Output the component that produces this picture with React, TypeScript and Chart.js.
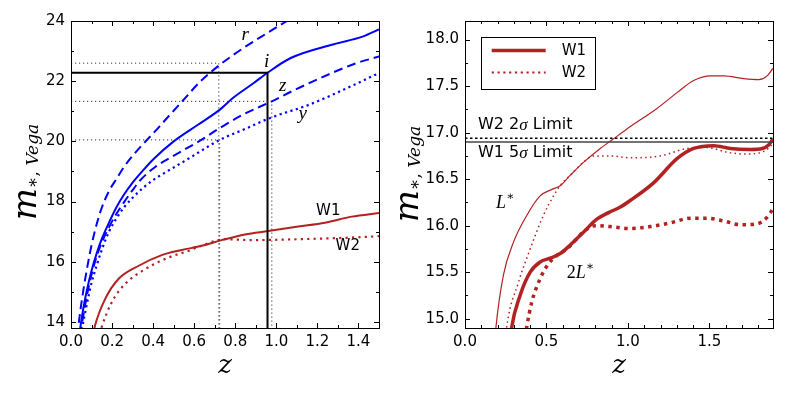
import React, { useEffect, useRef } from "react";
import { Chart, registerables } from "chart.js";
Chart.register(...registerables);

// ---------- Left panel data (apparent magnitude of m* vs redshift) ----------
const rBandZ = [0.03, 0.035, 0.045, 0.06, 0.08, 0.1, 0.125, 0.15, 0.185, 0.222, 0.26, 0.3, 0.336, 0.38, 0.425, 0.48, 0.531, 0.63, 0.726, 0.839, 0.953, 1.042, 1.08];
const rBandMag = [13.5, 13.8, 14.35, 15.05, 15.85, 16.55, 17.25, 17.8, 18.35, 18.76, 19.17, 19.52, 19.8, 20.12, 20.45, 20.87, 21.25, 21.99, 22.55, 23.1, 23.59, 23.96, 24.12];

const iBandZ = [0.04, 0.045, 0.06, 0.075, 0.1, 0.125, 0.15, 0.185, 0.222, 0.26, 0.3, 0.35, 0.4, 0.5, 0.62, 0.72, 0.79, 0.89, 0.957, 1.07, 1.28, 1.42, 1.5];
const iBandMag = [13.55, 13.8, 14.45, 14.98, 15.7, 16.28, 16.76, 17.3, 17.82, 18.25, 18.63, 19.03, 19.4, 20.0, 20.56, 21.03, 21.45, 21.94, 22.28, 22.77, 23.23, 23.48, 23.72];

const zBandZ = [0.045, 0.05, 0.065, 0.08, 0.1, 0.125, 0.15, 0.185, 0.222, 0.26, 0.3, 0.336, 0.41, 0.52, 0.637, 0.726, 0.84, 0.978, 1.08, 1.28, 1.39, 1.5];
const zBandMag = [13.55, 13.8, 14.42, 14.97, 15.58, 16.18, 16.64, 17.15, 17.6, 18.0, 18.38, 18.7, 19.15, 19.6, 20.06, 20.45, 20.9, 21.33, 21.68, 22.3, 22.6, 22.82];

const yBandZ = [0.05, 0.055, 0.07, 0.085, 0.1, 0.125, 0.15, 0.185, 0.222, 0.26, 0.3, 0.35, 0.4, 0.46, 0.59, 0.63, 0.724, 0.85, 0.97, 1.16, 1.36, 1.5];
const yBandMag = [13.55, 13.8, 14.35, 14.85, 15.3, 15.88, 16.4, 17.0, 17.45, 17.82, 18.13, 18.45, 18.72, 18.97, 19.5, 19.67, 20.05, 20.42, 20.78, 21.22, 21.82, 22.27];

const w1LeftZ = [0.11, 0.117, 0.166, 0.23, 0.328, 0.442, 0.539, 0.637, 0.734, 0.848, 0.961, 1.107, 1.237, 1.367, 1.5];
const w1LeftMag = [13.65, 13.88, 14.76, 15.42, 15.86, 16.22, 16.39, 16.53, 16.72, 16.91, 17.02, 17.17, 17.3, 17.5, 17.62];

const w2LeftZ = [0.14, 0.149, 0.198, 0.263, 0.36, 0.474, 0.571, 0.653, 0.75, 0.88, 1.107, 1.35, 1.5];
const w2LeftMag = [13.6, 13.82, 14.65, 15.26, 15.75, 16.14, 16.36, 16.58, 16.75, 16.72, 16.75, 16.8, 16.85];

// guide lines (corner lines drawn to the curves)
const guideSolidZ = [0, 0.957, 0.957];
const guideSolidMag = [22.28, 22.28, 13.5];
const guideRZ = [0, 0.72, 0.72];
const guideRMag = [22.6, 22.6, 13.5];
const guideZZ = [0, 0.978, 0.978];
const guideZMag = [21.33, 21.33, 13.5];
const guideYZ = [0, 0.724, 0.724];
const guideYMag = [20.05, 20.05, 13.5];

const leftXTicks = [0, 0.2, 0.4, 0.6, 0.8, 1.0, 1.2, 1.4];
const leftXMinor = [0.1, 0.3, 0.5, 0.7, 0.9, 1.1, 1.3];
const leftYTicks = [14, 16, 18, 20, 22, 24];
const leftYMinor = [15, 17, 19, 21, 23];

// ---------- Right panel data ----------
const lstarW1Z = [0.185, 0.19, 0.236, 0.297, 0.379, 0.461, 0.533, 0.584, 0.645, 0.727, 0.83, 0.901, 0.994, 1.178, 1.301, 1.403, 1.506, 1.588, 1.711, 1.803, 1.854, 1.889];
const lstarW1Mag = [14.8, 14.91, 15.47, 15.82, 16.11, 16.32, 16.39, 16.43, 16.54, 16.68, 16.83, 16.92, 17.04, 17.26, 17.43, 17.56, 17.61, 17.61, 17.58, 17.57, 17.61, 17.69];

const lstarW2Z = [0.25, 0.256, 0.328, 0.4, 0.481, 0.543, 0.584, 0.645, 0.738, 0.789, 0.891, 1.014, 1.199, 1.363, 1.486, 1.608, 1.711, 1.803, 1.854, 1.889];
const lstarW2Mag = [14.8, 14.91, 15.39, 15.75, 16.11, 16.32, 16.43, 16.54, 16.7, 16.75, 16.75, 16.73, 16.75, 16.83, 16.84, 16.79, 16.77, 16.78, 16.82, 16.88];

const twoLW1Z = [0.28, 0.287, 0.338, 0.4, 0.461, 0.522, 0.584, 0.645, 0.727, 0.809, 0.881, 0.953, 1.014, 1.157, 1.301, 1.403, 1.526, 1.629, 1.752, 1.824, 1.865, 1.889];
const twoLW1Mag = [14.8, 14.91, 15.25, 15.5, 15.61, 15.65, 15.7, 15.79, 15.93, 16.07, 16.14, 16.2, 16.27, 16.46, 16.72, 16.83, 16.86, 16.83, 16.82, 16.83, 16.87, 16.93];

const twoLW2Z = [0.37, 0.379, 0.41, 0.461, 0.512, 0.564, 0.625, 0.686, 0.738, 0.799, 0.891, 1.014, 1.137, 1.26, 1.383, 1.486, 1.588, 1.69, 1.793, 1.854, 1.889];
const twoLW2Mag = [14.8, 14.91, 15.18, 15.43, 15.59, 15.68, 15.75, 15.86, 15.95, 16.0, 15.99, 15.97, 15.99, 16.03, 16.08, 16.08, 16.05, 16.01, 16.02, 16.09, 16.18];

const limitZ = [0, 2];
const w2LimitMag = [16.94, 16.94];
const w1LimitMag = [16.9, 16.9];

const rightXTicks = [0, 0.5, 1.0, 1.5];
const rightXMinor = [0.1, 0.2, 0.3, 0.4, 0.6, 0.7, 0.8, 0.9, 1.1, 1.2, 1.3, 1.4, 1.6, 1.7, 1.8];
const rightYTicks = [15, 15.5, 16, 16.5, 17, 17.5, 18];
const rightYMinor = [15.25, 15.75, 16.25, 16.75, 17.25, 17.75];

// ---------- helpers ----------
const BLUE = "#0000ff";
const RED = "#b22222";
const SANS = '"DejaVu Sans"';
const SERIF = '"Liberation Serif"';
const MATH = '"DejaVu Serif"';

const pts = (xs: number[], ys: number[]) => xs.map((x, i) => ({ x, y: ys[i] }));

function curve(xs: number[], ys: number[], color: string, width: number, dash: number[] = []) {
  return {
    data: pts(xs, ys),
    borderColor: color,
    borderWidth: width,
    borderDash: dash,
    borderCapStyle: "butt",
    pointRadius: 0,
    fill: false,
    cubicInterpolationMode: "monotone",
    clip: 0,
  } as any;
}
function straight(xs: number[], ys: number[], color: string, width: number, dash: number[] = []) {
  return { ...curve(xs, ys, color, width, dash), cubicInterpolationMode: "default", tension: 0 };
}

type Run = { t: string; font: string; dy?: number };
function drawRuns(ctx: CanvasRenderingContext2D, runs: Run[], x: number, y: number, align: "left" | "center") {
  let total = 0;
  for (const r of runs) {
    ctx.font = r.font;
    total += ctx.measureText(r.t).width;
  }
  let cx = align === "center" ? x - total / 2 : x;
  ctx.textAlign = "left";
  for (const r of runs) {
    ctx.font = r.font;
    ctx.fillText(r.t, cx, y + (r.dy || 0));
    cx += ctx.measureText(r.t).width;
  }
}

type Note = { x: number; y: number; runs: Run[]; align: "left" | "center" };
type DecorCfg = {
  xMajor: number[]; xMinor: number[]; yMajor: number[]; yMinor: number[];
  notes: Note[];
  yTitleX: number; yTitleY: number; xTitleY: number;
  legend?: boolean;
};

function decorPlugin(cfg: DecorCfg) {
  return {
    id: "decor",
    afterDraw(chart: any) {
      const ctx: CanvasRenderingContext2D = chart.ctx;
      const a = chart.chartArea;
      const xs = chart.scales.x, ys = chart.scales.y;
      ctx.save();
      // frame
      ctx.strokeStyle = "#000";
      ctx.lineWidth = 1;
      ctx.setLineDash([]);
      ctx.strokeRect(Math.round(a.left) + 0.5, Math.round(a.top) + 0.5, Math.round(a.right - a.left), Math.round(a.bottom - a.top));
      // inward ticks on all sides
      const tick = (vals: number[], len: number) => {
        for (const v of vals) {
          const px = Math.round(xs.getPixelForValue(v)) + 0.5;
          ctx.beginPath();
          ctx.moveTo(px, a.bottom); ctx.lineTo(px, a.bottom - len);
          ctx.moveTo(px, a.top); ctx.lineTo(px, a.top + len);
          ctx.stroke();
        }
      };
      const tickY = (vals: number[], len: number) => {
        for (const v of vals) {
          const py = Math.round(ys.getPixelForValue(v)) + 0.5;
          ctx.beginPath();
          ctx.moveTo(a.left, py); ctx.lineTo(a.left + len, py);
          ctx.moveTo(a.right, py); ctx.lineTo(a.right - len, py);
          ctx.stroke();
        }
      };
      tick(cfg.xMajor, 5); tick(cfg.xMinor, 3);
      tickY(cfg.yMajor, 5); tickY(cfg.yMinor, 3);

      // annotations
      ctx.fillStyle = "#000";
      ctx.textBaseline = "middle";
      for (const n of cfg.notes) {
        drawRuns(ctx, n.runs, xs.getPixelForValue(n.x), ys.getPixelForValue(n.y), n.align);
      }

      // legend
      if (cfg.legend) {
        const lx = a.left + 15.7, ly = a.top + 16, lw = 114, lh = 52;
        ctx.fillStyle = "#fff";
        ctx.fillRect(lx, ly, lw, lh);
        ctx.strokeStyle = "#000";
        ctx.lineWidth = 1;
        ctx.strokeRect(Math.round(lx) + 0.5, Math.round(ly) + 0.5, lw, lh);
        const items = [
          { label: "W1", width: 3.5, dash: [] as number[], dy: 13.5 },
          { label: "W2", width: 2.2, dash: [2.2, 3.6], dy: 35.5 },
        ];
        for (const it of items) {
          ctx.strokeStyle = RED;
          ctx.lineWidth = it.width;
          ctx.lineCap = "butt";
          ctx.setLineDash(it.dash);
          ctx.beginPath();
          ctx.moveTo(lx + 11, ly + it.dy);
          ctx.lineTo(lx + 65, ly + it.dy);
          ctx.stroke();
          ctx.setLineDash([]);
          ctx.fillStyle = "#000";
          ctx.font = `15px ${SANS}`;
          ctx.textBaseline = "middle";
          ctx.textAlign = "left";
          ctx.fillText(it.label, lx + 81, ly + it.dy + 1);
        }
      }

      // axis titles
      ctx.fillStyle = "#000";
      ctx.textBaseline = "alphabetic";
      ctx.save();
      ctx.translate(cfg.yTitleX, cfg.yTitleY);
      ctx.rotate(-Math.PI / 2);
      drawRuns(ctx, [
        { t: "m", font: `italic 34px ${MATH}` },
        { t: "\u2217", font: `17px ${MATH}`, dy: 2 },
        { t: ", ", font: `17px ${MATH}`, dy: 2 },
        { t: "Vega", font: `italic 17px ${MATH}`, dy: 2 },
      ], 0, 0, "center");
      ctx.restore();
      drawRuns(ctx, [{ t: "z", font: `italic 26px ${MATH}` }], (a.left + a.right) / 2, cfg.xTitleY, "center");
      ctx.restore();
    },
  };
}

function scaleOpts(min: number, max: number, ticks: number[], decimals: number, fitProp: "width" | "height", fitVal: number) {
  return {
    type: "linear",
    min,
    max,
    grid: { display: false, drawTicks: false },
    border: { display: false },
    afterBuildTicks: (s: any) => {
      s.ticks = ticks.map((v) => ({ value: v }));
    },
    afterFit: (s: any) => {
      s[fitProp] = fitVal;
    },
    ticks: {
      autoSkip: false,
      maxRotation: 0,
      padding: fitProp === "width" ? 6 : 5,
      color: "#000",
      font: { family: "DejaVu Sans", size: 15 },
      callback: (v: any) => Number(v).toFixed(decimals),
    },
  } as any;
}

function LeftPanel() {
  const ref = useRef<HTMLCanvasElement>(null);
  useEffect(() => {
    const serifIt = (s: number) => `italic ${s}px ${SERIF}`;
    const chart = new Chart(ref.current!, {
      type: "line",
      data: {
        datasets: [
          straight(guideRZ, guideRMag, "#333", 1, [1.2, 2.8]),
          straight(guideYZ, guideYMag, "#333", 1, [1.2, 2.8]),
          straight(guideZZ, guideZMag, "#333", 1, [1.2, 2.8]),
          straight(guideSolidZ, guideSolidMag, "#000", 2),
          curve(rBandZ, rBandMag, BLUE, 2, [9, 5]),
          curve(iBandZ, iBandMag, BLUE, 2),
          curve(zBandZ, zBandMag, BLUE, 2, [9, 5]),
          curve(yBandZ, yBandMag, BLUE, 2.2, [2.2, 3.5]),
          curve(w1LeftZ, w1LeftMag, RED, 2),
          curve(w2LeftZ, w2LeftMag, RED, 2.2, [2.2, 4.2]),
        ],
      },
      options: {
        responsive: false,
        animation: false,
        events: [],
        layout: { padding: { top: 21, right: 16, left: 0, bottom: 0 } },
        plugins: { legend: { display: false }, tooltip: { enabled: false } },
        scales: {
          x: scaleOpts(0, 1.5, leftXTicks, 1, "height", 67),
          y: scaleOpts(13.8, 24, leftYTicks, 0, "width", 71),
        },
      } as any,
      plugins: [
        decorPlugin({
          xMajor: leftXTicks, xMinor: leftXMinor, yMajor: leftYTicks, yMinor: leftYMinor,
          yTitleX: 36, yTitleY: 172, xTitleY: 373,
          notes: [
            { x: 0.848, y: 23.54, runs: [{ t: "r", font: serifIt(19) }], align: "center" },
            { x: 0.953, y: 22.65, runs: [{ t: "i", font: serifIt(19) }], align: "center" },
            { x: 1.031, y: 21.85, runs: [{ t: "z", font: serifIt(19) }], align: "center" },
            { x: 1.129, y: 20.9, runs: [{ t: "y", font: serifIt(19) }], align: "center" },
            { x: 1.253, y: 17.69, runs: [{ t: "W1", font: `15px ${SANS}` }], align: "center" },
            { x: 1.348, y: 16.53, runs: [{ t: "W2", font: `15px ${SANS}` }], align: "center" },
          ],
        }),
      ],
    });
    return () => chart.destroy();
  }, []);
  return <canvas ref={ref} width={395} height={395} style={{ position: "absolute", left: 0, top: 0, width: 395, height: 395 }} />;
}

function RightPanel() {
  const ref = useRef<HTMLCanvasElement>(null);
  useEffect(() => {
    const chart = new Chart(ref.current!, {
      type: "line",
      data: {
        datasets: [
          straight(limitZ, w2LimitMag, "#000", 1.5, [2.5, 2.5]),
          straight(limitZ, w1LimitMag, "#444", 1.5),
          curve(lstarW1Z, lstarW1Mag, RED, 1.2),
          curve(lstarW2Z, lstarW2Mag, RED, 1.5, [1.5, 3.3]),
          curve(twoLW1Z, twoLW1Mag, RED, 3.5),
          curve(twoLW2Z, twoLW2Mag, RED, 3.5, [3.5, 4.5]),
        ],
      },
      options: {
        responsive: false,
        animation: false,
        events: [],
        layout: { padding: { top: 21, right: 16, left: 0, bottom: 0 } },
        plugins: { legend: { display: false }, tooltip: { enabled: false } },
        scales: {
          x: scaleOpts(0, 1.89, rightXTicks, 1, "height", 67),
          y: scaleOpts(14.9, 18.2, rightYTicks, 1, "width", 70),
        },
      } as any,
      plugins: [
        decorPlugin({
          xMajor: rightXTicks, xMinor: rightXMinor, yMajor: rightYTicks, yMinor: rightYMinor,
          yTitleX: 23, yTitleY: 174, xTitleY: 373, legend: true,
          notes: [
            { x: 0.246, y: 16.24, runs: [{ t: "L", font: `italic 18px ${SERIF}` }, { t: "\u2217", font: `12px "DejaVu Serif"`, dy: -6 }], align: "center" },
            { x: 0.707, y: 15.49, runs: [{ t: "2", font: `18px ${SERIF}` }, { t: "L", font: `italic 18px ${SERIF}` }, { t: "\u2217", font: `12px "DejaVu Serif"`, dy: -6 }], align: "center" },
            { x: 0.08, y: 17.08, runs: [{ t: "W2 2", font: `16px ${SANS}` }, { t: "\u03c3", font: `italic 17px ${SERIF}` }, { t: " Limit", font: `16px ${SANS}` }], align: "left" },
            { x: 0.08, y: 16.78, runs: [{ t: "W1 5", font: `16px ${SANS}` }, { t: "\u03c3", font: `italic 17px ${SERIF}` }, { t: " Limit", font: `16px ${SANS}` }], align: "left" },
          ],
        }),
      ],
    });
    return () => chart.destroy();
  }, []);
  return <canvas ref={ref} width={394} height={395} style={{ position: "absolute", left: 395, top: 0, width: 394, height: 395 }} />;
}

export default function App() {
  return (
    <div style={{ position: "fixed", left: 0, top: 0, width: 789, height: 395, background: "#fff", overflow: "hidden" }}>
      <LeftPanel />
      <RightPanel />
    </div>
  );
}
